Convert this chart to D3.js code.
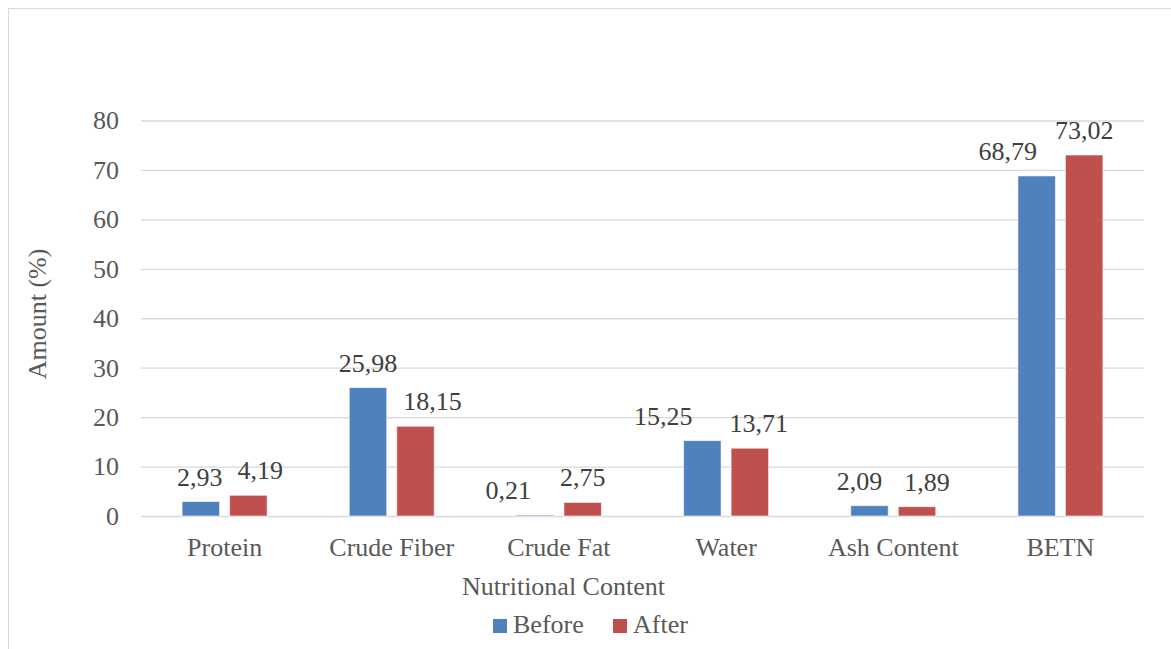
<!DOCTYPE html>
<html>
<head>
<meta charset="utf-8">
<script src="https://cdn.jsdelivr.net/npm/d3@7"></script>
<style>
  html, body { margin: 0; padding: 0; background: #fff; }
  svg { display: block; }
  svg text { font-family: "Liberation Serif", "Times New Roman", Times, "DejaVu Serif", serif !important; }
</style>
</head>
<body>
<svg id="chart" width="1171" height="649"></svg>
<script>
// Nutritional content before and after processing (%)
const categories = ["Protein", "Crude Fiber", "Crude Fat", "Water", "Ash Content", "BETN"];
const seriesNames = ["Before", "After"];
const beforeValues = [2.93, 25.98, 0.21, 15.25, 2.09, 68.79];
const afterValues = [4.19, 18.15, 2.75, 13.71, 1.89, 73.02];
const yTicks = [0, 10, 20, 30, 40, 50, 60, 70, 80];

// horizontal label nudges (px) so neighbouring value labels don't collide
const beforeLabelShift = [-1, 0, -27, -39, -10, -29];
const afterLabelShift = [12, 17, 0, 9, 10, 0];

const colors = { Before: "#4F81BD", After: "#C0504D" };
const fontSize = 26;
const serif = '"Liberation Serif", "Times New Roman", Times, "DejaVu Serif", serif';

const svg = d3.select("#chart");

// chart frame
svg.append("rect")
  .attr("x", 8.5).attr("y", 8.5)
  .attr("width", 1200).attr("height", 700)
  .attr("fill", "none").attr("stroke", "#d9d9d9").attr("stroke-width", 1);

const plot = { left: 141, right: 1144, top: 120.5, bottom: 516 };

const y = d3.scaleLinear().domain([0, 80]).range([plot.bottom, plot.top]);
const x0 = d3.scaleBand().domain(categories).range([plot.left, plot.right]);
const x1 = d3.scaleBand().domain(seriesNames)
  .range([x0.bandwidth() / 2 - 42.5, x0.bandwidth() / 2 + 42.5])
  .paddingInner(0.2105);

// gridlines
const yAxis = d3.axisLeft(y).tickValues(yTicks).tickSize(-(plot.right - plot.left)).tickPadding(22);
const gy = svg.append("g").attr("transform", `translate(${plot.left},0)`).call(yAxis)
  .attr("font-family", serif).attr("font-size", fontSize);
gy.select(".domain").remove();
gy.selectAll(".tick line").attr("stroke", "#d9d9d9").attr("stroke-width", 1.3);
gy.selectAll(".tick text").attr("fill", "#595959");

// category axis
const xAxis = d3.axisBottom(x0).tickSize(0).tickPadding(22);
const gx = svg.append("g").attr("transform", `translate(0,${plot.bottom})`).call(xAxis)
  .attr("font-family", serif).attr("font-size", fontSize);
gx.select(".domain").remove();
gx.selectAll(".tick text").attr("fill", "#595959");

const rows = categories.map((c, i) => ({
  category: c,
  items: [
    { key: "Before", value: beforeValues[i], shift: beforeLabelShift[i] },
    { key: "After", value: afterValues[i], shift: afterLabelShift[i] }
  ]
}));

const groups = svg.append("g").selectAll("g")
  .data(rows).join("g")
  .attr("transform", d => `translate(${x0(d.category)},0)`);

groups.selectAll("rect")
  .data(d => d.items).join("rect")
  .attr("x", d => x1(d.key))
  .attr("width", x1.bandwidth())
  .attr("y", d => y(d.value))
  .attr("height", d => y(0) - y(d.value))
  .attr("fill", d => colors[d.key])
  .attr("stroke", "#ffffff").attr("stroke-opacity", 0.6).attr("stroke-width", 1);

const fmt = v => d3.format(".2f")(v).replace(".", ",");

groups.selectAll("text.value")
  .data(d => d.items).join("text")
  .attr("class", "value")
  .attr("x", d => x1(d.key) + x1.bandwidth() / 2 + d.shift)
  .attr("y", d => y(d.value) - 16)
  .attr("text-anchor", "middle")
  .attr("fill", "#404040")
  .attr("font-family", serif)
  .attr("font-size", fontSize)
  .text(d => fmt(d.value));

// axis titles
svg.append("text")
  .attr("x", 563.5).attr("y", 595)
  .attr("text-anchor", "middle").attr("fill", "#595959")
  .attr("font-family", serif).attr("font-size", fontSize)
  .text("Nutritional Content");

svg.append("text")
  .attr("transform", "translate(46,314) rotate(-90)")
  .attr("text-anchor", "middle").attr("fill", "#595959")
  .attr("font-family", serif).attr("font-size", fontSize)
  .text("Amount (%)");

// legend
const legendItems = [
  { key: "Before", x: 493 },
  { key: "After", x: 613 }
];
const legend = svg.append("g").selectAll("g").data(legendItems).join("g")
  .attr("transform", d => `translate(${d.x},619)`);
legend.append("rect")
  .attr("width", 14).attr("height", 14)
  .attr("fill", d => colors[d.key]);
legend.append("text")
  .attr("x", 20).attr("y", 14)
  .attr("fill", "#595959")
  .attr("font-family", serif).attr("font-size", fontSize)
  .text(d => d.key);
</script>
</body>
</html>
